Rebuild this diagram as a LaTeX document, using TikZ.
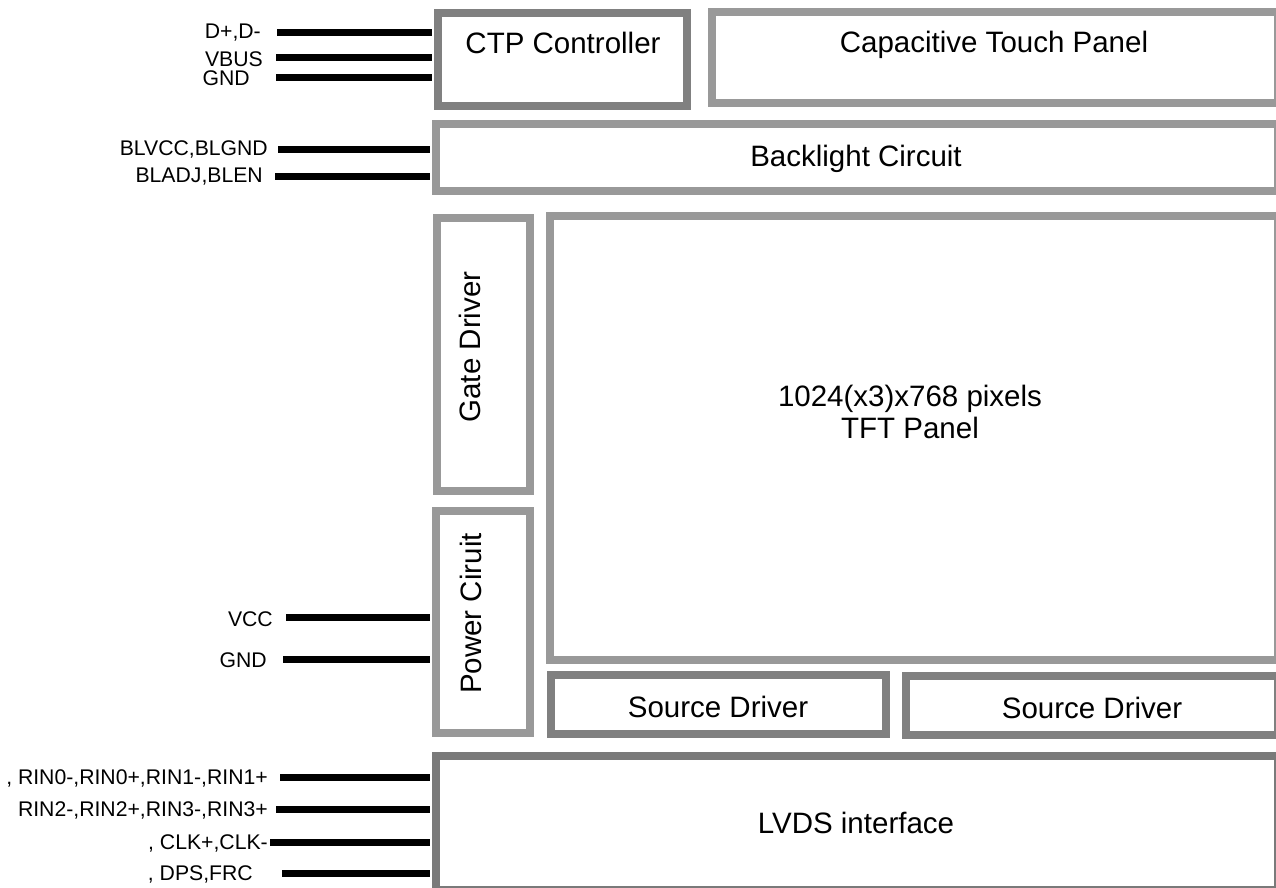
\documentclass[tikz,border=0pt]{standalone}
\usepackage{fontspec}
\setmainfont{Liberation Sans}
\usetikzlibrary{positioning}
\definecolor{frameDark}{HTML}{808080}
\definecolor{frameLight}{HTML}{999999}

\begin{document}
\begin{tikzpicture}[x=1pt,y=-1pt,
  panel/.style={draw=frameLight, line width=8pt, fill=white, rectangle, inner sep=0pt},
  chip/.style={panel, draw=frameDark},
  wire/.style={line width=7pt, black, shorten >=2pt},
  pin/.style={anchor=base east, inner sep=0pt, font=\fontsize{21.2}{23}\selectfont},
  title/.style={anchor=base, inner sep=0pt, font=\fontsize{29.5}{33}\selectfont}]
  \useasboundingbox (0,0) rectangle (1276,888);

  % blocks
  \node[chip, minimum width=249pt, minimum height=93pt] (ctp) at (562.5,59.5) {};
  \node[panel, minimum width=566pt, minimum height=91pt] (touch) at (995,57.5) {};
  \node[panel, minimum width=842pt, minimum height=67pt] (blight) at (857,157.5) {};
  \node[panel, minimum width=93pt, minimum height=273pt] (gate) at (483.5,354.5) {};
  \node[panel, minimum width=728pt, minimum height=444pt] (tft) at (914,438) {};
  \node[panel, minimum width=94pt, minimum height=222pt] (power) at (483,622) {};
  \node[chip, minimum width=335pt, minimum height=59pt] (srcA) at (718.5,704.5) {};
  \node[chip, minimum width=372pt, minimum height=59pt] (srcB) at (1092,705.5) {};
  \node[panel, draw=frameDark!105, minimum width=842pt, minimum height=134pt] (lvds) at (857,823) {};

  % block texts
  \node[title] (tCtp) at (563,53.5) {CTP Controller};
  \node[title] (tTouch) at (994,53) {Capacitive Touch Panel};
  \node[title] (tBlight) at (856,166) {Backlight Circuit};
  \node[title, rotate=90] (tGate) at (480,347) {Gate Driver};
  \node[title, rotate=90] (tPower) at (481,613.5) {Power Ciruit};
  \node[title] (tTftA) at (910,406) {1024(x3)x768 pixels};
  \node[title] (tTftB) at (910,438) {TFT Panel};
  \node[title] (tSrcA) at (718,717) {Source Driver};
  \node[title] (tSrcB) at (1092,718) {Source Driver};
  \node[title] (tLvds) at (856,833) {LVDS interface};

  % signal names
  \node[pin] (pDD) at (261,39) {D+,D-};
  \node[pin] (pVbus) at (263,67) {VBUS};
  \node[pin] (pGndA) at (250,86) {GND};
  \node[pin] (pBlvcc) at (268,155) {BLVCC,BLGND};
  \node[pin] (pBladj) at (263,182.5) {BLADJ,BLEN};
  \node[pin] (pVcc) at (273,626) {VCC};
  \node[pin] (pGndB) at (267,667) {GND};
  \node[pin] (pRinA) at (268,784) {, RIN0-,RIN0+,RIN1-,RIN1+};
  \node[pin] (pRinB) at (268,816) {RIN2-,RIN2+,RIN3-,RIN3+};
  \node[pin] (pClk) at (268,849) {, CLK+,CLK-};
  \node[pin] (pDps) at (253,880) {, DPS,FRC};

  % wire starts
  \coordinate (wDD) at (277,33);
  \coordinate (wVbus) at (276,58);
  \coordinate (wGndA) at (276,78);
  \coordinate (wBlvcc) at (278,149);
  \coordinate (wBladj) at (275,176);
  \coordinate (wVcc) at (286,617);
  \coordinate (wGndB) at (283,659);
  \coordinate (wRinA) at (280,777);
  \coordinate (wRinB) at (276,809);
  \coordinate (wClk) at (270,842);
  \coordinate (wDps) at (282,873);

  \draw[wire] (wDD) -- (wDD -| ctp.west);
  \draw[wire] (wVbus) -- (wVbus -| ctp.west);
  \draw[wire] (wGndA) -- (wGndA -| ctp.west);
  \draw[wire] (wBlvcc) -- (wBlvcc -| blight.west);
  \draw[wire] (wBladj) -- (wBladj -| blight.west);
  \draw[wire] (wVcc) -- (wVcc -| power.west);
  \draw[wire] (wGndB) -- (wGndB -| power.west);
  \draw[wire] (wRinA) -- (wRinA -| lvds.west);
  \draw[wire] (wRinB) -- (wRinB -| lvds.west);
  \draw[wire] (wClk) -- (wClk -| lvds.west);
  \draw[wire] (wDps) -- (wDps -| lvds.west);
\end{tikzpicture}
\end{document}
